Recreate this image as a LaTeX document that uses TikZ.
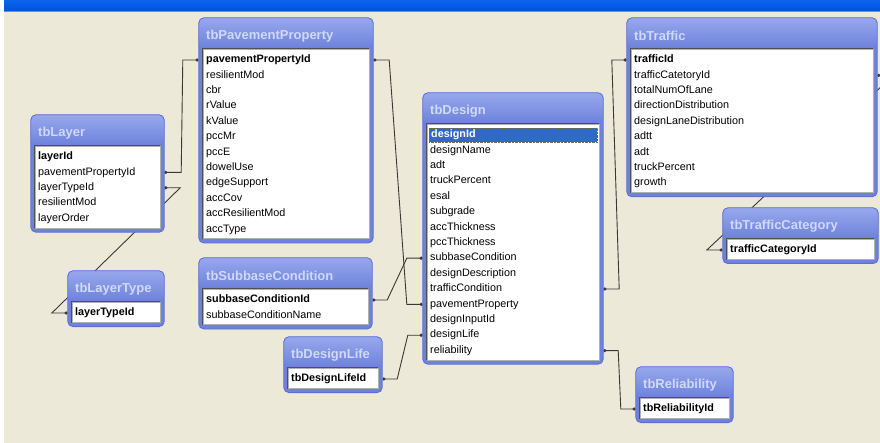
\documentclass[tikz,border=0pt]{standalone}
\usepackage{fontspec}
\setmainfont{Liberation Sans}
\usetikzlibrary{fit,calc,arrows.meta}
\definecolor{bgcol}{HTML}{ECE9D8}
\definecolor{bartop}{HTML}{0A64F0}
\definecolor{barbot}{HTML}{0350D8}
\definecolor{framecol}{HTML}{6E82DC}
\definecolor{titletop}{HTML}{97A8EC}
\definecolor{frameborder}{HTML}{5A6ED4}
\definecolor{titletext}{HTML}{D0D9F7}
\definecolor{innerborder}{HTML}{B0B0B0}
\definecolor{innerdark}{HTML}{505050}
\definecolor{selblue}{HTML}{316AC5}
\definecolor{conncol}{HTML}{383838}
\pgfdeclarelayer{bg}
\pgfsetlayers{bg,main}
\tikzset{
  field/.style={font=\fontsize{10.8}{12}\selectfont, text height=8pt, text depth=2.5pt, inner sep=0pt, anchor=west},
  keyfield/.style={field, font=\fontsize{10.8}{12}\selectfont\bfseries},
  selfield/.style={keyfield, text=white, fill=selblue, draw=black!65!yellow, densely dotted, text width=164pt, inner xsep=2pt, inner ysep=1.75pt, xshift=-1pt},
  tbtitle/.style={font=\fontsize{13}{15}\selectfont\bfseries, text=titletext, anchor=west, inner sep=0pt},
  conn/.style={draw=conncol, line width=0.9pt, {Circle[length=3.2pt]}-{Circle[length=3.2pt]}}
}
\newcommand\dbtable[7]{%
  \gdef\tbrows{0}%
  \foreach \f in {#6}{\xdef\tbrows{\the\numexpr\tbrows+1\relax}}%
  \pgfmathsetmacro\tbib{#3+31+15.4*\tbrows+5}%
  \pgfmathsetmacro\tbob{\tbib+4}%
  \node[fit={(#2,#3)(#4,\tbob)}, inner sep=0pt] (#1) {};
  \fill[framecol, rounded corners=5pt] (#1.south west) rectangle (#1.north east);
  \shade[top color=titletop, bottom color=framecol, rounded corners=5pt] (#1.north west) rectangle ($(#1.north east)+(0,30)$);
  \draw[frameborder, line width=0.8pt, rounded corners=5pt] (#1.south west) rectangle (#1.north east);
  \node[fit={(#2+4,#3+31)(#4-4,\tbib)}, inner sep=0pt, fill=white, draw=innerborder, line width=0.8pt] (#1-in) {};
  \draw[innerdark, line width=0.9pt] (#1-in.south west) -- (#1-in.north west) -- (#1-in.north east);
  \node[tbtitle] (#1-t) at (#2+7,#3+18) {#5};
  \foreach \f [count=\i] in {#6}{%
    \ifnum\i=1 \tikzset{rowsty/.style={#7}}\else\tikzset{rowsty/.style={field}}\fi
    \node[rowsty] (#1-\i) at (#2+7,{#3+42+(\i-1)*15.4}) {\f};
  }%
}
\begin{document}
\begin{tikzpicture}[x=1pt,y=-1pt]
\useasboundingbox (0,0) rectangle (880,443);
\begin{pgfonlayer}{bg}
  \fill[bgcol] (0,0) rectangle (880,443);
  \fill[white] (0,0) rectangle (4,443);
  \shade[top color=bartop, bottom color=barbot] (4,0) rectangle (880,11);
  \fill[black!45] (4,11) rectangle (880,12.5);
\end{pgfonlayer}

\dbtable{pav}{199}{18}{373}{tbPavementProperty}{pavementPropertyId,resilientMod,cbr,rValue,kValue,pccMr,pccE,dowelUse,edgeSupport,accCov,accResilientMod,accType}{keyfield}
\dbtable{lay}{31}{115}{164}{tbLayer}{layerId,pavementPropertyId,layerTypeId,resilientMod,layerOrder}{keyfield}
\dbtable{ltype}{68}{271}{164}{tbLayerType}{layerTypeId}{keyfield}
\dbtable{sub}{199}{258}{372}{tbSubbaseCondition}{subbaseConditionId,subbaseConditionName}{keyfield}
\dbtable{dlife}{284}{337}{382}{tbDesignLife}{tbDesignLifeId}{keyfield}
\dbtable{des}{423}{93}{603}{tbDesign}{designId,designName,adt,truckPercent,esal,subgrade,accThickness,pccThickness,subbaseCondition,designDescription,trafficCondition,pavementProperty,designInputId,designLife,reliability}{selfield}
\dbtable{traf}{627}{18}{877}{tbTraffic}{trafficId,trafficCatetoryId,totalNumOfLane,directionDistribution,designLaneDistribution,adtt,adt,truckPercent,growth}{keyfield}
\dbtable{tcat}{723}{208}{878}{tbTrafficCategory}{trafficCategoryId}{keyfield}
\dbtable{rel}{636}{367}{733}{tbReliability}{tbReliabilityId}{keyfield}

\begin{pgfonlayer}{bg}
  \draw[conn] (lay.east |- lay-2) -- ++(17,0) -- ($(pav.west |- pav-1)+(-16,0)$) -- (pav.west |- pav-1);
  \draw[conn] (lay.east |- lay-3) -- ++(16,0) -- ($(ltype.west |- ltype-1)+(-16,0)$) -- (ltype.west |- ltype-1);
  \draw[conn] (pav.east |- pav-1) -- ++(16,0) -- ($(des.west |- des-12)+(-16,0)$) -- (des.west |- des-12);
  \draw[conn] (sub.east |- sub-1) -- ++(15,0) -- ($(des.west |- des-9)+(-16,0)$) -- (des.west |- des-9);
  \draw[conn] (dlife.east |- dlife-1) -- ++(15,0) -- ($(des.west |- des-14)+(-15,0)$) -- (des.west |- des-14);
  \draw[conn] (des.east |- des-11) -- ++(16,0) -- ($(traf.west |- traf-1)+(-15,0)$) -- (traf.west |- traf-1);
  \draw[conn] (des.east |- des-15) -- ++(15,0) -- ($(rel.west |- rel-1)+(-15,0)$) -- (rel.west |- rel-1);
  \draw[conn] (traf.east |- traf-2) -- ++(16,0) -- ($(tcat.west |- tcat-1)+(-16,0)$) -- (tcat.west |- tcat-1);
\end{pgfonlayer}
\end{tikzpicture}
\end{document}
